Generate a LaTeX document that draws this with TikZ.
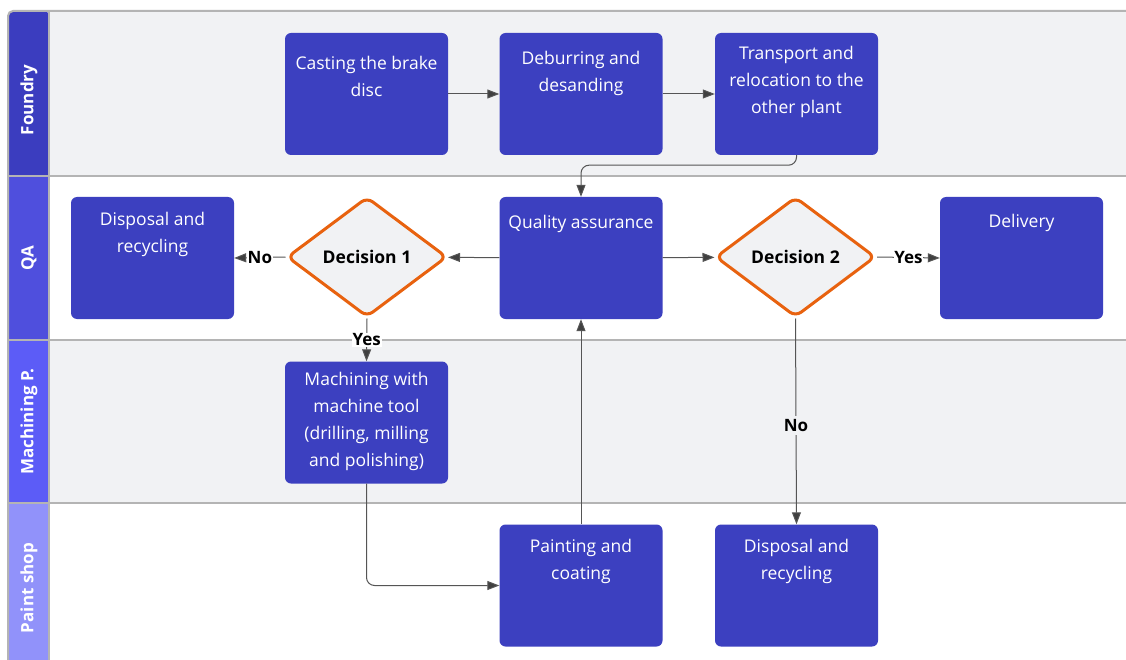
\documentclass[tikz,border=0pt]{standalone}
\usepackage{fontspec}
\setmainfont{Open Sans}
\usetikzlibrary{arrows.meta,shapes.geometric}

\definecolor{boxblue}{HTML}{3C40C0}
\definecolor{hdrA}{HTML}{3B3DBF}
\definecolor{hdrB}{HTML}{4F4FDD}
\definecolor{hdrC}{HTML}{5C5CF7}
\definecolor{hdrD}{HTML}{9192FA}
\definecolor{lanegrey}{HTML}{F1F2F4}
\definecolor{laneline}{HTML}{B4B4B4}
\definecolor{decorange}{HTML}{E8620F}
\definecolor{connector}{HTML}{555555}

\tikzset{
  procbox/.style={fill=boxblue, draw=none, rounded corners=6pt,
    minimum width=163pt, minimum height=122pt, inner sep=0pt},
  boxtext/.style={text=white, align=center, inner sep=0pt,
    font=\fontsize{17.5}{27}\selectfont, anchor=north},
  decision/.style={diamond, draw=decorange, line width=3pt, fill=lanegrey,
    rounded corners=7pt, minimum width=160pt, minimum height=120pt,
    inner sep=0pt, font=\bfseries\fontsize{17.5}{20}\selectfont},
  lanehead/.style={rotate=90, text=white, font=\bfseries\fontsize{17}{20}\selectfont},
  flow/.style={draw=connector, line width=1pt,
    -{Triangle[length=12pt,width=9pt,fill=black!75]}},
  choice/.style={font=\bfseries\fontsize{17}{20}\selectfont, inner sep=1pt, text=black},
}

\begin{document}
\begin{tikzpicture}[x=1pt,y=-1pt]
\useasboundingbox (0,0) rectangle (1126,660);
\fill[white] (0,0) rectangle (1126,660);

% swimlane backgrounds
\fill[lanegrey] (49,11) rectangle (1126,176);
\fill[white]    (49,176) rectangle (1126,340);
\fill[lanegrey] (49,340) rectangle (1126,503);
\fill[white]    (49,503) rectangle (1126,660);

% lane header cells
\fill[hdrA, rounded corners=5pt] (8,660) |- (49,11) -- (49,176) -- (8,176) -- cycle;
\fill[hdrA] (8,20) rectangle (49,176);
\fill[hdrB] (8,176) rectangle (49,340);
\fill[hdrC] (8,340) rectangle (49,503);
\fill[hdrD] (8,503) rectangle (49,660);

% lane borders
\draw[laneline, line width=2pt, rounded corners=5pt] (8,660) -- (8,11) -- (1126,11);
\draw[laneline, line width=2pt] (49,11) -- (49,660);
\draw[laneline, line width=2pt] (8,176) -- (1126,176);
\draw[laneline, line width=2pt] (8,340) -- (1126,340);
\draw[laneline, line width=2pt] (8,503) -- (1126,503);

% lane titles
\node[lanehead] (hFoundry) at (29,100) {Foundry};
\node[lanehead] (hQA) at (29,258) {QA};
\node[lanehead] (hMach) at (29,421.5) {Machining P.};
\node[lanehead] (hPaint) at (29,588) {Paint shop};

% process steps
\node[procbox] (cast)  at (366.5,94) {};
\node[procbox] (deburr) at (581,94) {};
\node[procbox] (trans) at (796.5,94) {};
\node[procbox] (disp1) at (152.5,258) {};
\node[procbox] (qa)    at (581,258) {};
\node[procbox] (deliv) at (1021.5,258) {};
\node[procbox] (mach)  at (366.5,422.5) {};
\node[procbox] (paint) at (581,585.5) {};
\node[procbox] (disp2) at (796.5,585.5) {};

\node[boxtext] (castT)   at (366.5,56) {Casting the brake\\disc};
\node[boxtext] (deburrT) at (581,51) {Deburring and\\desanding};
\node[boxtext] (transT)  at (796.5,46) {Transport and\\relocation to the\\other plant};
\node[boxtext] (disp1T)  at (152.5,212) {Disposal and\\recycling};
\node[boxtext] (qaT)     at (581,215) {Quality assurance};
\node[boxtext] (delivT)  at (1021.5,214) {Delivery};
\node[boxtext] (machT)   at (366.5,372) {Machining with\\machine tool\\(drilling, milling\\and polishing)};
\node[boxtext] (paintT)  at (581,539) {Painting and\\coating};
\node[boxtext] (disp2T)  at (796.5,539) {Disposal and\\recycling};

% decisions
\node[decision] (dec1) at (367,257) {Decision 1};
\node[decision] (dec2) at (795.5,257) {Decision 2};

% connectors
\draw[flow] (cast) -- (deburr);
\draw[flow] (deburr) -- (trans);
\draw[flow, rounded corners=8pt] (trans.south) -- ++(0,10) -| (qa.north);
\draw[flow] (qa) -- (dec1);
\draw[flow] (qa) -- (dec2);
\draw[flow] (dec1.west) -- node[choice, fill=white] (no1) {No} (disp1.east);
\draw[flow] (dec1.south) -- node[choice, fill=white] (yes1) {Yes} (mach.north);
\draw[flow] (dec2.east) -- node[choice, fill=white, inner sep=0pt] (yes2) {Yes} (deliv.west);
\draw[flow] (dec2.south) -- node[choice, fill=lanegrey, pos=0.52, inner sep=3pt] (no2) {No} (disp2.north);
\draw[flow, rounded corners=8pt] (mach.south) |- (paint.west);
\draw[flow] (paint.north) -- (qa.south);
\end{tikzpicture}
\end{document}
